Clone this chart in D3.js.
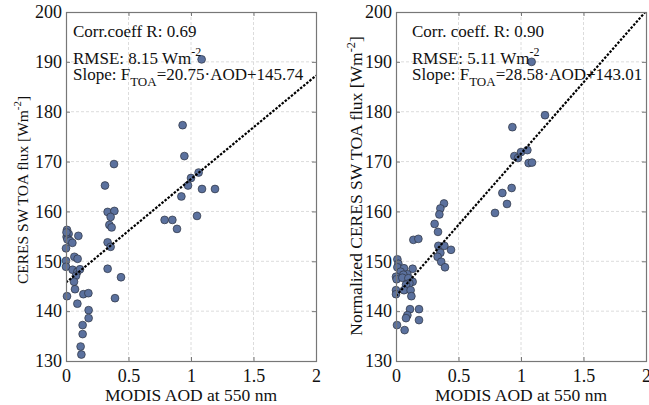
<!DOCTYPE html>
<html>
<head>
<meta charset="utf-8">
<script src="https://cdn.jsdelivr.net/npm/d3@7"></script>
<style>
  body { margin: 0; background: #fff; }
  text { font-family: "Liberation Serif", "DejaVu Serif", serif; fill: #111; }
</style>
</head>
<body>
<svg width="649" height="405"></svg>
<script>
// x ticks / y ticks shared by both panels
var xTicks = [0, 0.5, 1, 1.5, 2];
var xTickLabels = ["0", "0.5", "1", "1.5", "2"];
var yTicks = [130, 140, 150, 160, 170, 180, 190, 200];

// left panel: MODIS AOD vs CERES SW TOA flux
var leftAOD = [0.933, 0.947, 0.384, 1.061, 1.0, 0.312, 0.976, 1.088, 1.192, 0.923,
  0.333, 0.387, 0.357, 0.789, 0.851, 1.048, 0.347, 0.365, 0.888, 0.008,
  0.021, 0.099, 0.005, 1.085, 0.011, 0.032, 0.051, 0.0, 0.333, 0.357,
  0.0, 0.0, 0.067, 0.093, 0.053, 0.091, 0.112, 0.08, 0.064, 0.333,
  0.44, 0.072, 0.008, 0.139, 0.179, 0.392, 0.091, 0.181, 0.181, 0.133,
  0.133, 0.117, 0.123, 0.004];
var leftFlux = [177.3, 171.1, 169.5, 167.8, 166.7, 165.2, 165.2, 164.5, 164.5, 163.0,
  159.9, 160.1, 158.9, 158.3, 158.3, 159.1, 157.3, 156.8, 156.5, 156.3,
  155.5, 155.1, 154.9, 190.5, 154.4, 154.1, 153.7, 152.6, 153.8, 152.9,
  150.1, 148.9, 150.9, 150.5, 148.3, 147.9, 148.4, 147.1, 145.9, 148.5,
  146.8, 144.4, 143.0, 143.4, 143.6, 142.6, 141.5, 140.2, 138.6, 137.2,
  135.4, 132.9, 131.3, 155.8];

// right panel: MODIS AOD vs normalized CERES SW TOA flux
var rightAOD = [1.192, 0.931, 0.947, 0.976, 1.0, 1.051, 1.061, 1.088, 0.925, 0.851,
  0.888, 0.792, 0.384, 0.355, 0.347, 0.309, 0.336, 1.085, 0.139, 0.179,
  0.339, 0.387, 0.44, 0.355, 0.333, 0.362, 0.392, 0.011, 0.019, 0.011,
  0.064, 0.037, 0.133, 0.091, 0.059, 0.0, 0.005, 0.051, 0.099, 0.133,
  0.107, 0.08, 0.0, 0.064, 0.117, 0.0, 0.123, 0.112, 0.184, 0.091,
  0.08, 0.184, 0.008, 0.069];
var rightFlux = [179.3, 176.9, 171.1, 170.7, 171.9, 172.3, 169.7, 169.8, 164.7, 163.7,
  161.5, 159.7, 161.6, 160.6, 159.4, 157.5, 155.9, 190.0, 154.3, 154.5,
  153.1, 153.1, 152.3, 151.7, 150.9, 149.9, 148.8, 150.4, 149.5, 148.8,
  148.6, 147.9, 148.5, 147.4, 147.3, 146.9, 146.4, 146.7, 146.6, 145.9,
  145.6, 145.3, 144.2, 144.2, 144.2, 143.4, 143.0, 140.4, 140.4, 139.2,
  138.6, 138.2, 137.2, 136.2];

var svg = d3.select("svg");
var top_ = 12, bottom = 361;
var fs = 18;   // tick labels
var afs = 17;  // annotation text

function panel(opt) {
  var x = d3.scaleLinear().domain([0, 2]).range([opt.x0, opt.x0 + 250]);
  var y = d3.scaleLinear().domain([130, 200]).range([bottom, top_]);
  var g = svg.append("g");

  // grid
  g.selectAll(".gx").data(xTicks.slice(1, -1)).enter().append("line")
    .attr("x1", d => x(d)).attr("x2", d => x(d))
    .attr("y1", top_).attr("y2", bottom)
    .attr("stroke", "#dcdcdc").attr("stroke-dasharray", "3,2");
  g.selectAll(".gy").data(yTicks.slice(1, -1)).enter().append("line")
    .attr("x1", x(0)).attr("x2", x(2))
    .attr("y1", d => y(d)).attr("y2", d => y(d))
    .attr("stroke", "#dcdcdc").attr("stroke-dasharray", "3,2");

  // clip for the fit line
  var cid = "clip" + opt.x0;
  svg.append("clipPath").attr("id", cid).append("rect")
    .attr("x", x(0)).attr("y", top_).attr("width", 250).attr("height", bottom - top_);

  // points
  var pts = d3.range(opt.xs.length);
  g.selectAll(".pt").data(pts).enter().append("circle")
    .attr("cx", i => x(opt.xs[i])).attr("cy", i => y(opt.ys[i]))
    .attr("r", 3.9)
    .attr("fill", "#5b719e").attr("stroke", "#2e3440").attr("stroke-width", 0.7);

  // regression line
  g.append("line")
    .attr("clip-path", "url(#" + cid + ")")
    .attr("x1", x(0)).attr("y1", y(opt.b))
    .attr("x2", x(2)).attr("y2", y(opt.a * 2 + opt.b))
    .attr("stroke", "#000").attr("stroke-width", 2.2).attr("stroke-dasharray", "2.5,1.5");

  // frame
  g.append("rect").attr("x", x(0) + 0.5).attr("y", top_ + 0.5)
    .attr("width", 250).attr("height", bottom - top_)
    .attr("fill", "none").attr("stroke", "#777").attr("stroke-width", 1.2);

  // axes (ticks inward, on all sides)
  var ax = d3.axisBottom(x).tickValues(xTicks).tickFormat((d, i) => xTickLabels[i])
    .tickSizeInner(-4).tickSizeOuter(0).tickPadding(8);
  var gx = g.append("g").attr("transform", "translate(0," + bottom + ")").call(ax);
  var ay = d3.axisLeft(y).tickValues(yTicks).tickFormat(d3.format("d"))
    .tickSizeInner(-4).tickSizeOuter(0).tickPadding(4);
  var gy = g.append("g").attr("transform", "translate(" + x(0) + ",0)").call(ay);
  var axT = d3.axisTop(x).tickValues(xTicks).tickFormat("").tickSizeInner(-4).tickSizeOuter(0);
  var gt = g.append("g").attr("transform", "translate(0," + top_ + ")").call(axT);
  var ayR = d3.axisRight(y).tickValues(yTicks).tickFormat("").tickSizeInner(-4).tickSizeOuter(0);
  var gr = g.append("g").attr("transform", "translate(" + x(2) + ",0)").call(ayR);
  [gx, gy, gt, gr].forEach(function(a) {
    a.select(".domain").remove();
    a.selectAll("line").attr("stroke", "#777");
    a.selectAll("text").attr("font-size", fs).attr("font-family", "Liberation Serif").attr("fill", "#111");
  });

  // x label
  g.append("text").attr("x", x(1)).attr("y", 401).attr("text-anchor", "middle")
    .attr("font-size", 17.5).text("MODIS AOD at 550 nm");

  // y label
  var yl = g.append("text").attr("transform", "translate(" + opt.ylx + "," + opt.yly + ") rotate(-90)")
    .attr("text-anchor", "middle").attr("font-size", opt.ylfs);
  yl.append("tspan").text(opt.ylabel + " [Wm");
  yl.append("tspan").attr("dy", -7).attr("font-size", opt.ylfs * 0.7).text("-2");
  yl.append("tspan").attr("dy", 7).text("]");

  // annotations
  var tx = x(0) + opt.tdx;
  g.append("text").attr("x", tx).attr("y", 37).attr("font-size", afs).text(opt.corr);
  var r = g.append("text").attr("x", tx).attr("y", 64).attr("font-size", afs);
  r.append("tspan").text(opt.rmse);
  r.append("tspan").attr("dy", -8).attr("font-size", 12).text("-2");
  var s = g.append("text").attr("x", tx).attr("y", 80).attr("font-size", afs);
  s.append("tspan").text("Slope: F");
  s.append("tspan").attr("dy", 6).attr("font-size", 13).text("TOA");
  s.append("tspan").attr("dy", -6).text(opt.slope);
}

panel({x0: 66, xs: leftAOD, ys: leftFlux, a: 20.75, b: 145.74, tdx: 7,
  corr: "Corr.coeff R: 0.69", rmse: "RMSE: 8.15 Wm", slope: "=20.75\u00b7AOD+145.74",
  ylabel: "CERES SW TOA flux", ylx: 28, yly: 190, ylfs: 15.5});
panel({x0: 396, xs: rightAOD, ys: rightFlux, a: 28.58, b: 143.01, tdx: 16,
  corr: "Corr. coeff. R: 0.90", rmse: "RMSE: 5.11 Wm", slope: "=28.58\u00b7AOD+143.01",
  ylabel: "Normalized CERES SW TOA flux", ylx: 362, yly: 186, ylfs: 17.5});
</script>
</body>
</html>
